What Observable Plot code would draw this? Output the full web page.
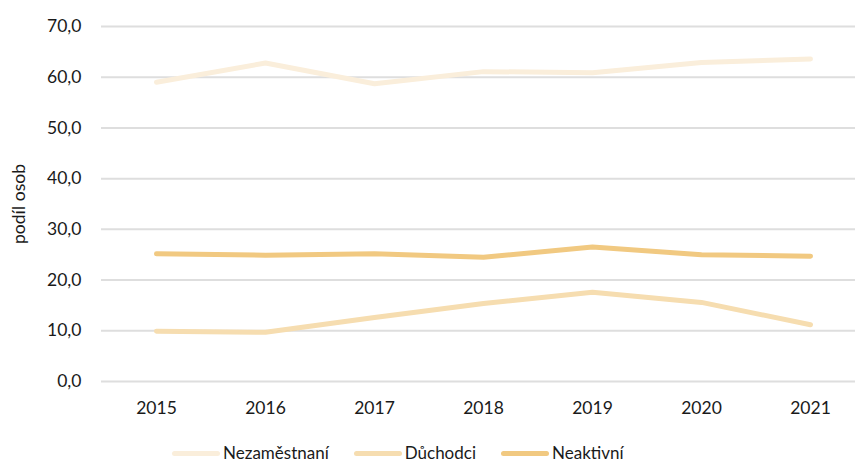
<!DOCTYPE html>
<html>
<head>
<meta charset="utf-8">
<script src="https://cdn.jsdelivr.net/npm/d3@7"></script>
<script src="https://cdn.jsdelivr.net/npm/@observablehq/plot@0.6"></script>
<style>
  html, body { margin: 0; padding: 0; background: #fff; overflow: hidden; }
  #chart { position: relative; width: 855px; height: 465px; font-family: Lato, "Open Sans", sans-serif; }
  #legend { position: absolute; left: 172px; top: 444px; height: 18px; display: flex; align-items: center; font-size: 17px; line-height: 18px; color: #1a1a1a; }
  .item { display: flex; align-items: center; margin-right: 25px; }
  .sw { width: 48px; height: 5px; border-radius: 3px; margin-right: 3px; }
</style>
</head>
<body>
<div id="chart"><div id="legend"></div></div>
<script>
const years = [2015, 2016, 2017, 2018, 2019, 2020, 2021];
const seriesNames = ["Nezaměstnaní", "Důchodci", "Neaktivní"];
const nezamestnani = [59.0, 62.8, 58.7, 61.1, 60.9, 62.9, 63.6];
const duchodci = [9.9, 9.7, 12.6, 15.4, 17.6, 15.6, 11.2];
const neaktivni = [25.2, 24.9, 25.2, 24.5, 26.5, 25.0, 24.7];
const colors = ["#faeedb", "#f6ddb0", "#f1c981"];
const yTicks = [0, 10, 20, 30, 40, 50, 60, 70];

const valuesBySeries = [nezamestnani, duchodci, neaktivni];
const data = [];
seriesNames.forEach((s, i) => years.forEach((y, j) => data.push({series: s, year: String(y), value: valuesBySeries[i][j]})));

const plot = Plot.plot({
  width: 855,
  height: 420,
  marginLeft: 101,
  marginRight: 0,
  marginTop: 26,
  marginBottom: 39,
  style: {fontFamily: "Lato, 'Open Sans', sans-serif", fontSize: "17.5px", color: "#1a1a1a", background: "transparent"},
  x: {type: "point", domain: years.map(String), padding: 0.5, insetRight: -10, label: null},
  y: {domain: [0, 70], label: null},
  color: {domain: seriesNames, range: colors},
  marks: [
    Plot.ruleY(yTicks, {stroke: "#dedede", strokeWidth: 2}),
    Plot.axisX({tickSize: 0, tickPadding: 20, label: null}),
    Plot.axisY(yTicks, {tickSize: 0, tickPadding: 20, tickFormat: d => d.toFixed(1).replace(".", ","),
      label: "podíl osob", labelAnchor: "center", labelArrow: "none", labelOffset: 89}),
    Plot.line(data, {x: "year", y: "value", z: "series", stroke: "series", strokeWidth: 5, strokeLinecap: "round", strokeLinejoin: "round"})
  ]
});
document.getElementById("chart").prepend(plot);

const legend = document.getElementById("legend");
seriesNames.forEach((s, i) => {
  const item = document.createElement("div");
  item.className = "item";
  const sw = document.createElement("div");
  sw.className = "sw";
  sw.style.background = colors[i];
  const t = document.createElement("span");
  t.textContent = s;
  item.append(sw, t);
  legend.append(item);
});
</script>
</body>
</html>
